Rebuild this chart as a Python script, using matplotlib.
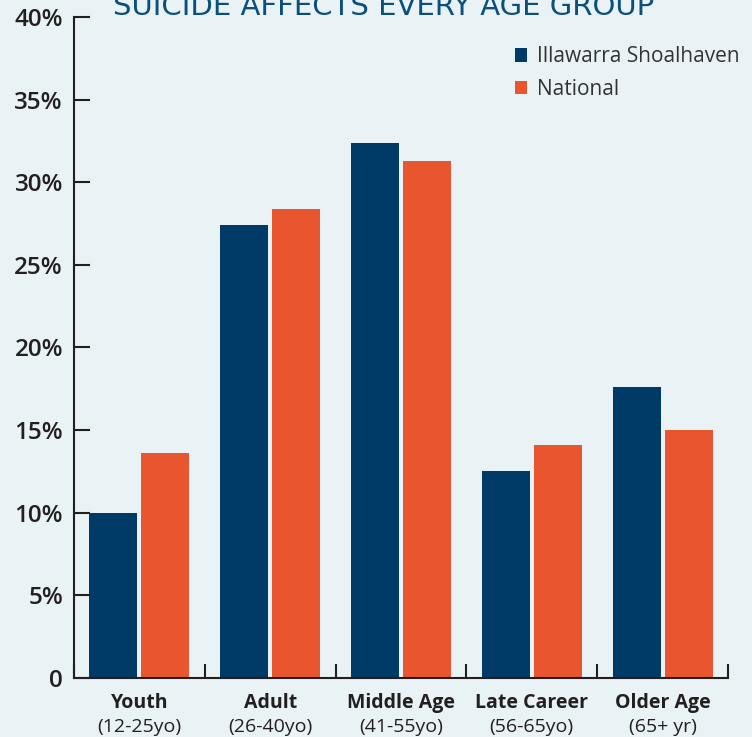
import matplotlib.pyplot as plt
import numpy as np
from matplotlib.ticker import FuncFormatter

# data (percent of suicides by age group)
groups = ['Youth', 'Adult', 'Middle Age', 'Late Career', 'Older Age']
ranges = ['(12-25yo)', '(26-40yo)', '(41-55yo)', '(56-65yo)', '(65+ yr)']
illawarra = [10.0, 27.4, 32.4, 12.5, 17.6]
national = [13.6, 28.4, 31.3, 14.1, 15.0]

BG = '#e9f2f5'
DARK = '#003a66'
ORANGE = '#e8552f'
INK = '#231f20'

plt.rcParams['font.family'] = ['Open Sans', 'DejaVu Sans']

fig = plt.figure(figsize=(7.52, 7.37), dpi=100, facecolor=BG)
ax = fig.add_axes([74 / 752, 1 - 678 / 737, 654 / 752, 661 / 737])
ax.set_facecolor(BG)

x = np.arange(len(groups))
w = 0.368
off = 0.199
ax.bar(x - off, illawarra, w, color=DARK, label='Illawarra Shoalhaven')
ax.bar(x + off, national, w, color=ORANGE, label='National')

ax.set_xlim(-0.5, len(groups) - 0.5)
ax.set_ylim(0, 40)

for s in ['top', 'right']:
    ax.spines[s].set_visible(False)
for s in ['left', 'bottom']:
    ax.spines[s].set_color(INK)
    ax.spines[s].set_linewidth(1.5)

ax.set_yticks(np.arange(0, 41, 5))
ax.yaxis.set_major_formatter(FuncFormatter(lambda v, p: '0' if v == 0 else f'{v:.0f}%'))
ax.tick_params(axis='y', direction='in', length=11.5, width=1.5, color=INK,
               labelsize=17.5, labelcolor=INK, pad=8)
for lbl in ax.get_yticklabels():
    lbl.set_fontweight('semibold')

ax.set_xticks(np.arange(-0.5, len(groups), 1.0))
ax.set_xticklabels([])
ax.tick_params(axis='x', direction='in', length=10, width=1.5, color=INK)

# two-line category labels under the axis
for i in range(len(groups)):
    ax.annotate(groups[i], (x[i], 0), xytext=(0, -18), textcoords='offset points',
                ha='center', va='center', fontsize=14, fontweight='bold', color=INK,
                annotation_clip=False)
    ax.annotate(ranges[i], (x[i], 0), xytext=(0, -35), textcoords='offset points',
                ha='center', va='center', fontsize=14, color=INK,
                annotation_clip=False)

leg = ax.legend(loc='upper right', bbox_to_anchor=(1.046, 0.984), frameon=False,
                fontsize=15, handlelength=0.6, handleheight=0.6,
                handletextpad=0.45, labelspacing=0.55)
for t in leg.get_texts():
    t.set_color('#333333')

fig.text(0.51, 1 - 15 / 737, 'SUICIDE AFFECTS EVERY AGE GROUP',
         family=['Liberation Sans Narrow', 'DejaVu Sans'], fontsize=21,
         color='#0b4f7c', ha='center', va='baseline')

fig.savefig('out.png', dpi=100, facecolor=BG)
